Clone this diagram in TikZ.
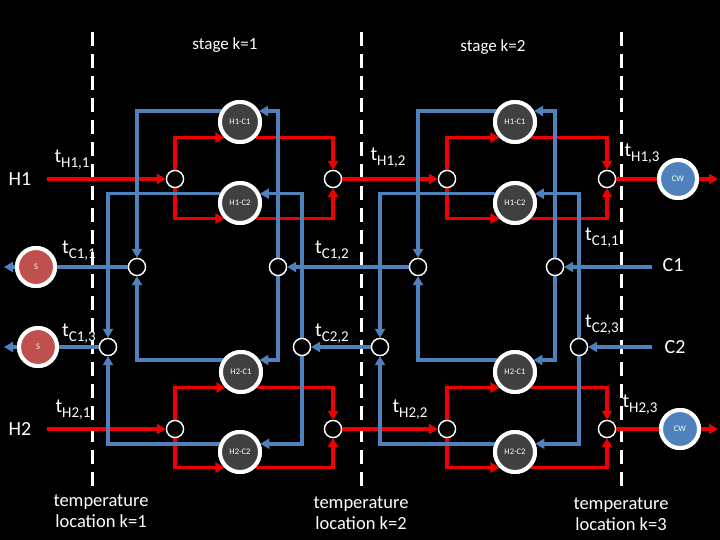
\documentclass[tikz,border=0pt]{standalone}
\usepackage{fontspec}
\setmainfont{Carlito}
\usetikzlibrary{arrows.meta}
\definecolor{cblue}{RGB}{79,129,189}
\definecolor{hred}{RGB}{240,0,0}
\definecolor{sred}{RGB}{192,80,77}
\definecolor{hxgray}{RGB}{64,64,64}
\newcommand{\tsub}[1]{t\raisebox{-5pt}{\fontsize{15}{16}\selectfont #1}}
\begin{document}
\begin{tikzpicture}[x=1pt,y=-1pt,
  hot/.style={draw=hred,line width=3.5pt},
  cold/.style={draw=cblue,line width=3.5pt},
  tip/.style={-{Triangle[length=9pt,width=10pt]}},
  jn/.style={circle,fill=black,draw=white,line width=1.3pt,minimum size=17pt,inner sep=0pt},
  hx/.style={circle,fill=hxgray,draw=white,line width=4pt,minimum size=40pt,inner sep=0pt,text=white,font=\fontsize{8.5}{9}\selectfont},
  util/.style={circle,draw=white,line width=4pt,minimum size=38pt,inner sep=0pt,text=white,font=\fontsize{8.5}{9}\selectfont},
  lab/.style={text=white,font=\fontsize{20}{22}\selectfont},
  stagedash/.style={draw=white,line width=3pt,dash pattern=on 14pt off 8pt}]
\path[fill=black,use as bounding box] (0,0) rectangle (720,540);
% dashed stage boundaries
\draw[stagedash] (92,32) -- (92,487);
\draw[stagedash] (361,32) -- (361,487);
\draw[stagedash] (621,32) -- (621,487);
% nodes
\node[hx] (x11) at (240,122) {H1-C1};
\node[hx] (x12) at (240,203) {H1-C2};
\node[hx] (x21) at (241,372) {H2-C1};
\node[hx] (x22) at (240,452) {H2-C2};
\node[hx] (y11) at (515,122) {H1-C1};
\node[hx] (y12) at (515,203) {H1-C2};
\node[hx] (y21) at (515,372) {H2-C1};
\node[hx] (y22) at (515,452) {H2-C2};
\node[util,fill=cblue] (cw1) at (678,179) {CW};
\node[util,fill=cblue] (cw2) at (680,429) {CW};
\node[util,fill=sred] (s1) at (36,267) {S};
\node[util,fill=sred] (s2) at (38,347) {S};
\node[jn] (hsp11) at (175,179) {};
\node[jn] (hmx11) at (333,179) {};
\node[jn] (hsp21) at (175,429) {};
\node[jn] (hmx21) at (333,429) {};
\node[jn] (hsp12) at (447,179) {};
\node[jn] (hmx12) at (607,179) {};
\node[jn] (hsp22) at (447,429) {};
\node[jn] (hmx22) at (607,429) {};
\node[jn] (csp11) at (278,267) {};
\node[jn] (cmx11) at (137,267) {};
\node[jn] (csp21) at (302,347) {};
\node[jn] (cmx21) at (108,347) {};
\node[jn] (csp12) at (555,267) {};
\node[jn] (cmx12) at (418,267) {};
\node[jn] (csp22) at (579,347) {};
\node[jn] (cmx22) at (380,347) {};
\coordinate (h1in) at (47,179);
\coordinate (h2in) at (47,429);
\coordinate (h1out) at (718,179);
\coordinate (h2out) at (718,429);
\coordinate (c1in) at (652,267);
\coordinate (c2in) at (652,347);
\coordinate (c1out) at (4,267);
\coordinate (c2out) at (4,347);
% hot streams
\draw[hot,tip] (h1in) -- (hsp11);
\draw[hot,tip] (hsp11) |- (x11.south west);
\draw[hot,tip] (x11.south east) -| (hmx11);
\draw[hot,tip] (hsp11) |- (x12.south west);
\draw[hot,tip] (x12.south east) -| (hmx11);
\draw[hot,tip] (hmx11) -- (hsp12);
\draw[hot,tip] (hsp12) |- (y11.south west);
\draw[hot,tip] (y11.south east) -| (hmx12);
\draw[hot,tip] (hsp12) |- (y12.south west);
\draw[hot,tip] (y12.south east) -| (hmx12);
\draw[hot] (hmx12) -- (cw1);
\draw[hot,tip] (cw1) -- (h1out);
\draw[hot,tip] (h2in) -- (hsp21);
\draw[hot,tip] (hsp21) |- (x21.south west);
\draw[hot,tip] (x21.south east) -| (hmx21);
\draw[hot,tip] (hsp21) |- (x22.south west);
\draw[hot,tip] (x22.south east) -| (hmx21);
\draw[hot,tip] (hmx21) -- (hsp22);
\draw[hot,tip] (hsp22) |- (y21.south west);
\draw[hot,tip] (y21.south east) -| (hmx22);
\draw[hot,tip] (hsp22) |- (y22.south west);
\draw[hot,tip] (y22.south east) -| (hmx22);
\draw[hot] (hmx22) -- (cw2);
\draw[hot,tip] (cw2) -- (h2out);
% cold stream C1
\draw[cold,tip] (c1in) -- (csp12);
\draw[cold,tip] (csp12) |- (y11.30);
\draw[cold,tip] (y11.150) -| (cmx12);
\draw[cold,tip] (csp12) |- (y21.33);
\draw[cold,tip] (y21.147) -| (cmx12);
\draw[cold,tip] (cmx12) -- (csp11);
\draw[cold,tip] (csp11) |- (x11.30);
\draw[cold,tip] (x11.150) -| (cmx11);
\draw[cold,tip] (csp11) |- (x21.33);
\draw[cold,tip] (x21.147) -| (cmx11);
\draw[cold] (cmx11) -- (s1);
\draw[cold,tip] (s1) -- (c1out);
% cold stream C2
\draw[cold,tip] (c2in) -- (csp22);
\draw[cold,tip] (csp22) |- (y12.25);
\draw[cold,tip] (y12.155) -| (cmx22);
\draw[cold,tip] (csp22) |- (y22.22);
\draw[cold,tip] (y22.158) -| (cmx22);
\draw[cold,tip] (cmx22) -- (csp21);
\draw[cold,tip] (csp21) |- (x12.25);
\draw[cold,tip] (x12.155) -| (cmx21);
\draw[cold,tip] (csp21) |- (x22.22);
\draw[cold,tip] (x22.158) -| (cmx21);
\draw[cold] (cmx21) -- (s2);
\draw[cold,tip] (s2) -- (c2out);
% redraw nodes on top
\foreach \n/\t in {x11/H1-C1,x12/H1-C2,x21/H2-C1,x22/H2-C2,y11/H1-C1,y12/H1-C2,y21/H2-C1,y22/H2-C2}
  \node[hx] at (\n) {\t};
\foreach \n in {hsp11,hmx11,hsp21,hmx21,hsp12,hmx12,hsp22,hmx22,csp11,cmx11,csp21,cmx21,csp12,cmx12,csp22,cmx22}
  \node[jn] at (\n) {};
\node[util,fill=cblue] at (cw1) {CW};
\node[util,fill=cblue] at (cw2) {CW};
\node[util,fill=sred] at (s1) {S};
\node[util,fill=sred] at (s2) {S};
% labels
\node[lab] (lH1) at (20,179) {H1};
\node[lab] (lH2) at (20,429) {H2};
\node[lab] (lC1) at (673,265) {C1};
\node[lab] (lC2) at (675,347) {C2};
\node[lab] (th11) at (72,160) {\tsub{H1,1}};
\node[lab] (th12) at (388,158) {\tsub{H1,2}};
\node[lab] (th13) at (642,154) {\tsub{H1,3}};
\node[lab] (tc11) at (79,251) {\tsub{C1,1}};
\node[lab] (tc12) at (332,251) {\tsub{C1,2}};
\node[lab] (tc11b) at (602,238) {\tsub{C1,1}};
\node[lab] (tc13) at (79,334) {\tsub{C1,3}};
\node[lab] (tc22) at (332,334) {\tsub{C2,2}};
\node[lab] (tc23) at (602,325) {\tsub{C2,3}};
\node[lab] (th21) at (73,410) {\tsub{H2,1}};
\node[lab] (th22) at (410,410) {\tsub{H2,2}};
\node[lab] (th23) at (640,405) {\tsub{H2,3}};
\node[lab,font=\fontsize{17}{19}\selectfont] (st1) at (225,45) {stage k=1};
\node[lab,font=\fontsize{17}{19}\selectfont] (st2) at (493,47) {stage k=2};
\node[lab,align=center,font=\fontsize{18.5}{21.5}\selectfont] (tl1) at (101,511) {temperature\\location k=1};
\node[lab,align=center,font=\fontsize{18.5}{21.5}\selectfont] (tl2) at (361,513) {temperature\\location k=2};
\node[lab,align=center,font=\fontsize{18.5}{21.5}\selectfont] (tl3) at (621,514) {temperature\\location k=3};
\end{tikzpicture}
\end{document}
